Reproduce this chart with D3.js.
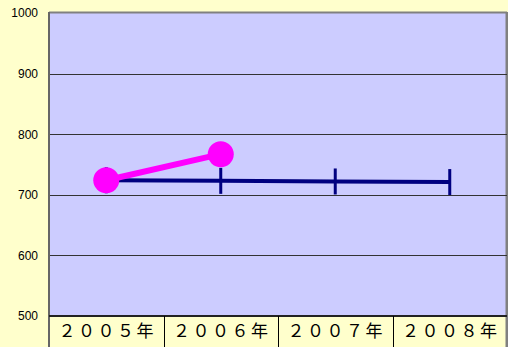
<!DOCTYPE html>
<html>
<head>
<meta charset="utf-8">
<script src="https://cdn.jsdelivr.net/npm/d3@7"></script>
<style>
  html, body { margin: 0; padding: 0; background: #FFFFCC; }
  svg { display: block; }
</style>
</head>
<body>
<svg id="chart" width="508" height="347"></svg>
<script>
// Categories (full-width year labels), y ticks and the two series
const categories = ["２００５年", "２００６年", "２００７年", "２００８年"];
const yTicks = [500, 600, 700, 800, 900, 1000];
const navySeries = [724, 723, 722, 721];
const magentaSeries = [724, 767];

const W = 508, H = 347;
const margin = { left: 49, top: 13, right: 1, bottom: 31 };
const svg = d3.select("#chart");

svg.append("rect").attr("width", W).attr("height", H).attr("fill", "#FFFFCC");

const x = d3.scaleBand().domain(categories)
  .range([margin.left, W - margin.right]).padding(0);
const y = d3.scaleLinear().domain([500, 1000])
  .range([H - margin.bottom, margin.top]);

const plotW = W - margin.right - margin.left;
const plotH = H - margin.bottom - margin.top;

// plot area
svg.append("rect")
  .attr("x", margin.left).attr("y", margin.top)
  .attr("width", plotW).attr("height", plotH)
  .attr("fill", "#CCCCFF");

// top and right frame
svg.append("line").attr("x1", margin.left).attr("x2", W - margin.right)
  .attr("y1", margin.top - 0.5).attr("y2", margin.top - 0.5)
  .attr("stroke", "#808080").attr("stroke-width", 2);
svg.append("line").attr("x1", W - margin.right).attr("x2", W - margin.right)
  .attr("y1", margin.top - 1).attr("y2", H)
  .attr("stroke", "#808080").attr("stroke-width", 3);

// horizontal gridlines
svg.append("g").selectAll("line")
  .data(yTicks.filter(d => d > 500 && d < 1000))
  .join("line")
  .attr("x1", margin.left).attr("x2", W - margin.right)
  .attr("y1", d => Math.round(y(d)) + 0.5).attr("y2", d => Math.round(y(d)) + 0.5)
  .attr("stroke", "#333333").attr("stroke-width", 1);

// y axis
const yAxis = svg.append("g")
  .attr("transform", `translate(${margin.left},0)`)
  .call(d3.axisLeft(y).tickValues(yTicks).tickSize(0).tickPadding(11).tickFormat(d3.format("d")));
yAxis.select(".domain").remove();
yAxis.selectAll("text")
  .attr("font-family", "Liberation Sans, Arial, sans-serif")
  .attr("font-size", 12).attr("fill", "#000");

// left axis line (extends through category row)
svg.append("line").attr("x1", margin.left).attr("x2", margin.left)
  .attr("y1", margin.top - 1).attr("y2", H)
  .attr("stroke", "#666666").attr("stroke-width", 2);

// x axis line
svg.append("line").attr("x1", margin.left).attr("x2", W - margin.right)
  .attr("y1", y(500)).attr("y2", y(500))
  .attr("stroke", "#222222").attr("stroke-width", 2);

// category separators below the axis
svg.append("g").selectAll("line")
  .data(categories.slice(1))
  .join("line")
  .attr("x1", d => Math.round(x(d)) + 0.5).attr("x2", d => Math.round(x(d)) + 0.5)
  .attr("y1", y(500)).attr("y2", H)
  .attr("stroke", "#000").attr("stroke-width", 1);

// category labels
svg.append("g").selectAll("text")
  .data(categories)
  .join("text")
  .attr("x", d => x(d) + x.bandwidth() / 2 + 1)
  .attr("y", y(500) + 21)
  .attr("text-anchor", "middle")
  .attr("font-family", "Noto Sans CJK JP, sans-serif")
  .attr("font-size", 17)
  .attr("letter-spacing", 2.5)
  .attr("fill", "#000")
  .text(d => d);

const cx = (i) => x(categories[i]) + x.bandwidth() / 2;

// navy series
svg.append("path")
  .datum(navySeries)
  .attr("fill", "none").attr("stroke", "#000080").attr("stroke-width", 4)
  .attr("d", d3.line().x((d, i) => cx(i)).y(d => y(d)));
svg.append("g").selectAll("line")
  .data(navySeries)
  .join("line")
  .attr("x1", (d, i) => cx(i)).attr("x2", (d, i) => cx(i))
  .attr("y1", d => y(d) - 13).attr("y2", d => y(d) + 13)
  .attr("stroke", "#000080").attr("stroke-width", 3);

// magenta series
svg.append("path")
  .datum(magentaSeries)
  .attr("fill", "none").attr("stroke", "#FF00FF").attr("stroke-width", 6)
  .attr("d", d3.line().x((d, i) => cx(i)).y(d => y(d)));
svg.append("g").selectAll("circle")
  .data(magentaSeries)
  .join("circle")
  .attr("cx", (d, i) => cx(i)).attr("cy", d => y(d))
  .attr("r", 13).attr("fill", "#FF00FF");
</script>
</body>
</html>
